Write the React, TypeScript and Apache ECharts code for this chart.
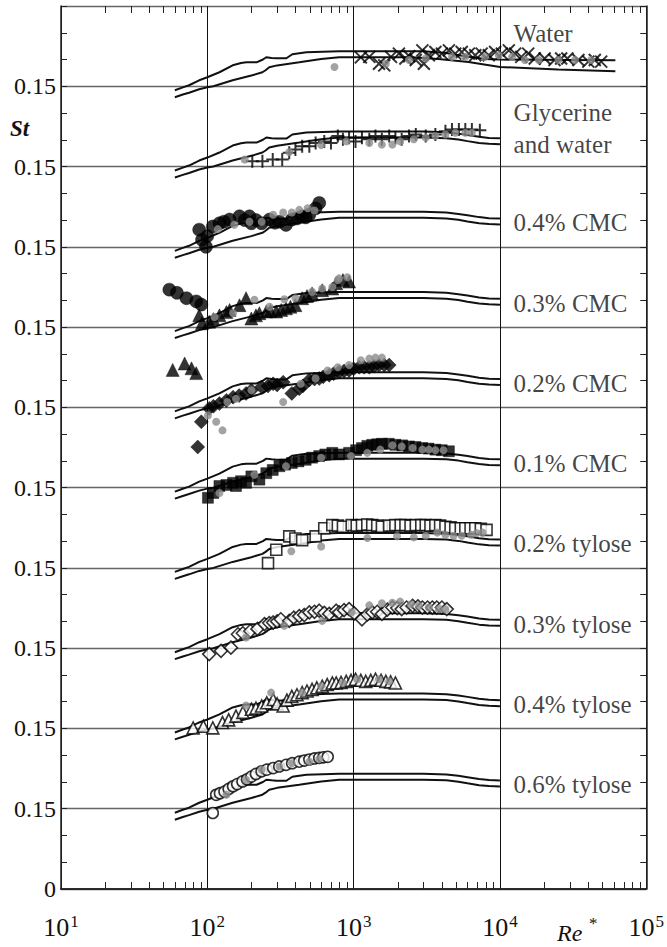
import React, { useEffect, useRef } from 'react';
import * as echarts from 'echarts';

// ---------- axis text ----------
const yTickLabels = ['0', '0.15', '0.15', '0.15', '0.15', '0.15', '0.15', '0.15', '0.15', '0.15', '0.15', ''];
const xTickExponents = ['1', '2', '3', '4', '5'];
const xMinorDecades = [10, 100, 1000, 10000];
const xMinorMultipliers = [2, 3, 4, 5, 6, 7, 8, 9];

// ---------- panels (top to bottom) ----------
const panelNames = ['Water', 'Glycerine\nand water', '0.4% CMC', '0.3% CMC', '0.2% CMC', '0.1% CMC', '0.2% tylose', '0.3% tylose', '0.4% tylose', '0.6% tylose'];
const panelLabelSt = [0.249, 0.221, 0.1948, 0.1948, 0.1948, 0.1948, 0.1948, 0.1948, 0.1948, 0.1948];
const panelLabelRe = 12400;

// ---------- model curves [Re*, St] (local panel values) ----------
const modelUpper = [[60, 0.1425], [68, 0.148], [75, 0.1519], [88, 0.1612], [100, 0.1668], [121, 0.1762], [149, 0.1892], [170, 0.1935], [185, 0.1948], [217, 0.1948], [240, 0.2], [253, 0.2042], [275, 0.203], [296, 0.2023], [347, 0.2023], [381, 0.2098], [475, 0.2135], [796, 0.2154], [3000, 0.2154], [4300, 0.214], [5200, 0.2115], [6000, 0.209], [7200, 0.2055], [8400, 0.2035], [10000, 0.2029]];
const modelLower = [[60, 0.1295], [68, 0.1345], [75, 0.138], [88, 0.1444], [100, 0.1481], [110, 0.15], [149, 0.1612], [200, 0.17], [238, 0.1762], [250, 0.18], [265, 0.1855], [300, 0.189], [425, 0.1948], [600, 0.201], [796, 0.2042], [3000, 0.2042], [4300, 0.203], [5200, 0.2005], [6000, 0.1975], [7200, 0.194], [8400, 0.1925], [10000, 0.1917]];
const waterUpper = [[60, 0.1425], [68, 0.148], [75, 0.1519], [88, 0.1612], [100, 0.1668], [121, 0.1762], [149, 0.1892], [170, 0.1935], [185, 0.1948], [217, 0.1948], [240, 0.2], [253, 0.2042], [275, 0.203], [296, 0.2023], [347, 0.2023], [381, 0.2098], [475, 0.2135], [796, 0.2154], [3000, 0.2154], [4300, 0.212], [6000, 0.205], [8000, 0.201], [10000, 0.1999], [30000, 0.199], [61500, 0.1986]];
const waterLower = [[60, 0.1295], [68, 0.1345], [75, 0.138], [88, 0.1444], [100, 0.1481], [110, 0.15], [149, 0.1612], [200, 0.17], [238, 0.1762], [250, 0.18], [265, 0.1855], [300, 0.189], [425, 0.1948], [600, 0.201], [796, 0.2042], [2500, 0.2042], [3800, 0.201], [6100, 0.1954], [10000, 0.186], [25000, 0.1815], [61500, 0.178]];

// ---------- measured points [Re*, St] (local panel values) ----------
const waterCross = [[1120, 0.204], [1280, 0.205], [1490, 0.192], [1620, 0.189], [1800, 0.205], [2040, 0.211], [2260, 0.202], [2400, 0.206], [2660, 0.199], [2950, 0.217], [3020, 0.192], [3270, 0.208], [3620, 0.214], [4010, 0.211], [4480, 0.217], [4950, 0.211], [5480, 0.214], [6130, 0.211], [6780, 0.208], [7500, 0.211], [8390, 0.208], [9270, 0.214], [10300, 0.211], [11500, 0.217], [12700, 0.211], [14000, 0.205], [15600, 0.211], [17300, 0.202], [20200, 0.202], [23600, 0.199], [26200, 0.202], [28900, 0.202], [34400, 0.199], [40200, 0.196], [44500, 0.199], [49200, 0.196]];
const waterGray = [[740, 0.186], [1660, 0.192], [2390, 0.199], [3110, 0.202], [4700, 0.205], [5800, 0.205], [7900, 0.205], [9800, 0.208], [12100, 0.205], [14800, 0.199], [18400, 0.199], [25100, 0.199], [32600, 0.199], [42000, 0.199]];

const glycerinePlus = [[203, 0.16], [238, 0.16], [280, 0.163], [325, 0.163], [363, 0.176], [400, 0.182], [445, 0.188], [498, 0.188], [550, 0.194], [630, 0.197], [700, 0.194], [780, 0.207], [845, 0.201], [931, 0.204], [1030, 0.197], [1140, 0.204], [1280, 0.201], [1410, 0.207], [1560, 0.201], [1750, 0.207], [1930, 0.204], [2130, 0.201], [2390, 0.207], [2660, 0.21], [3110, 0.207], [3620, 0.21], [4240, 0.216], [4700, 0.219], [5240, 0.219], [5800, 0.219], [6430, 0.219], [7290, 0.218]];
const glycerineGray = [[180, 0.163], [363, 0.177], [600, 0.19], [890, 0.197], [1280, 0.194], [1560, 0.191], [1840, 0.191], [2080, 0.197], [2580, 0.201], [3110, 0.204], [3620, 0.207], [4240, 0.21], [4950, 0.213], [5800, 0.213], [6430, 0.213]];

const cmc04Circle = [[55, 0.07], [62, 0.064], [72, 0.054], [84, 0.048], [91, 0.042], [88, 0.182], [92, 0.163], [98, 0.15], [100, 0.17], [109, 0.188], [121, 0.194], [130, 0.197], [142, 0.201], [166, 0.207], [180, 0.2], [194, 0.207], [200, 0.194], [215, 0.2], [235, 0.194], [266, 0.201], [290, 0.195], [311, 0.197], [345, 0.191], [378, 0.201], [410, 0.203], [445, 0.207], [470, 0.205], [498, 0.21], [550, 0.222], [582, 0.232]];
const cmc04Gray = [[118, 0.183], [153, 0.191], [194, 0.197], [235, 0.197], [282, 0.21], [330, 0.214], [378, 0.214], [425, 0.219], [485, 0.222], [540, 0.218]];

const cmc03Triangle = [[58, 0.07], [70, 0.082], [78, 0.073], [84, 0.064], [88, 0.172], [92, 0.157], [103, 0.16], [110, 0.165], [121, 0.172], [135, 0.178], [142, 0.182], [166, 0.191], [184, 0.204], [200, 0.166], [215, 0.172], [227, 0.176], [253, 0.179], [270, 0.18], [296, 0.179], [320, 0.182], [345, 0.185], [370, 0.188], [400, 0.191], [445, 0.204], [480, 0.208], [520, 0.213], [610, 0.219], [715, 0.222], [760, 0.232], [845, 0.238], [931, 0.235]];
const cmc03Gray = [[112, 0.169], [150, 0.176], [210, 0.201], [266, 0.188], [336, 0.202], [400, 0.204], [520, 0.216], [610, 0.222], [715, 0.225], [780, 0.238], [796, 0.241], [905, 0.243]];

const cmc02Diamond = [[86, 0.076], [91, 0.123], [103, 0.148], [110, 0.152], [121, 0.157], [135, 0.163], [150, 0.169], [165, 0.172], [184, 0.176], [200, 0.182], [235, 0.188], [260, 0.19], [282, 0.194], [300, 0.192], [330, 0.197], [378, 0.176], [425, 0.185], [450, 0.19], [498, 0.201], [540, 0.203], [582, 0.204], [620, 0.207], [681, 0.21], [730, 0.213], [796, 0.216], [860, 0.218], [931, 0.219], [1000, 0.222], [1090, 0.225], [1180, 0.225], [1280, 0.225], [1380, 0.227], [1490, 0.229], [1620, 0.229], [1750, 0.229]];
const cmc02Gray = [[101, 0.135], [115, 0.123], [127, 0.107], [137, 0.16], [157, 0.166], [200, 0.182], [330, 0.16], [435, 0.194], [550, 0.204], [665, 0.219], [780, 0.225], [931, 0.229], [1120, 0.238], [1280, 0.241], [1410, 0.243], [1560, 0.243]];

const cmc01Square = [[101, 0.131], [110, 0.14], [121, 0.153], [135, 0.155], [150, 0.159], [157, 0.153], [170, 0.162], [184, 0.159], [200, 0.171], [227, 0.165], [253, 0.177], [280, 0.183], [311, 0.19], [340, 0.193], [378, 0.196], [420, 0.199], [470, 0.202], [520, 0.206], [582, 0.209], [640, 0.212], [715, 0.215], [796, 0.212], [931, 0.215], [1040, 0.22], [1140, 0.224], [1240, 0.228], [1340, 0.23], [1450, 0.231], [1560, 0.232], [1740, 0.232], [1930, 0.23], [2150, 0.229], [2390, 0.227], [2650, 0.226], [2950, 0.224], [3250, 0.223], [3620, 0.221], [4000, 0.22], [4480, 0.218]];
const cmc01Gray = [[121, 0.14], [210, 0.174], [345, 0.19], [600, 0.206], [960, 0.209], [1240, 0.215], [1520, 0.221], [1840, 0.229], [2130, 0.227], [2530, 0.224], [2950, 0.221], [3270, 0.221], [3620, 0.22], [4120, 0.22]];

const tylose02Square = [[260, 0.159], [296, 0.184], [363, 0.209], [400, 0.205], [445, 0.202], [550, 0.209], [630, 0.224], [715, 0.23], [780, 0.229], [845, 0.227], [970, 0.23], [1050, 0.229], [1140, 0.23], [1240, 0.231], [1340, 0.23], [1450, 0.229], [1560, 0.227], [1750, 0.229], [1930, 0.23], [2100, 0.23], [2260, 0.23], [2450, 0.229], [2660, 0.23], [2900, 0.23], [3110, 0.23], [3350, 0.229], [3620, 0.23], [3900, 0.229], [4240, 0.227], [4600, 0.226], [4950, 0.224], [5400, 0.224], [5800, 0.224], [6300, 0.224], [6780, 0.224], [7400, 0.223], [8100, 0.221]];
const tylose02Gray = [[375, 0.181], [600, 0.19], [1240, 0.206], [1980, 0.209], [2580, 0.207], [3110, 0.21], [3730, 0.216], [4240, 0.212], [4820, 0.21], [5480, 0.21], [6350, 0.212], [6930, 0.215], [7600, 0.216]];

const tylose03Diamond = [[103, 0.139], [124, 0.145], [145, 0.151], [162, 0.176], [175, 0.178], [197, 0.182], [220, 0.186], [246, 0.195], [265, 0.197], [282, 0.198], [300, 0.2], [318, 0.204], [363, 0.201], [390, 0.207], [425, 0.21], [460, 0.212], [498, 0.217], [540, 0.218], [582, 0.22], [630, 0.216], [681, 0.214], [760, 0.22], [796, 0.217], [860, 0.221], [931, 0.223], [1010, 0.215], [1140, 0.204], [1240, 0.213], [1340, 0.217], [1450, 0.218], [1560, 0.214], [1700, 0.222], [1840, 0.226], [1990, 0.225], [2130, 0.223], [2300, 0.226], [2530, 0.229], [2750, 0.228], [2950, 0.226], [3200, 0.226], [3450, 0.226], [3700, 0.226], [4010, 0.226], [4330, 0.223]];
const tylose03Gray = [[184, 0.17], [336, 0.192], [610, 0.201], [970, 0.217], [1280, 0.23], [1560, 0.234], [1840, 0.235], [2080, 0.237], [2460, 0.232], [2795, 0.229], [3270, 0.226], [3830, 0.223], [4240, 0.222]];

const tylose04Triangle = [[80, 0.151], [94, 0.154], [109, 0.151], [127, 0.161], [140, 0.166], [157, 0.173], [175, 0.18], [200, 0.186], [215, 0.188], [235, 0.192], [255, 0.198], [282, 0.204], [300, 0.196], [330, 0.192], [350, 0.203], [378, 0.21], [410, 0.213], [445, 0.217], [480, 0.22], [520, 0.223], [560, 0.226], [610, 0.229], [660, 0.232], [715, 0.235], [760, 0.235], [820, 0.236], [890, 0.238], [960, 0.24], [1030, 0.242], [1120, 0.24], [1210, 0.238], [1310, 0.24], [1410, 0.242], [1540, 0.24], [1660, 0.238], [1790, 0.237], [1930, 0.235]];
const tylose04Gray = [[184, 0.193], [273, 0.217], [445, 0.217], [600, 0.229], [845, 0.235], [1060, 0.242], [1490, 0.242], [1750, 0.238]];

const tylose06Circle = [[109, 0.142], [115, 0.176], [122, 0.179], [131, 0.182], [140, 0.187], [150, 0.192], [160, 0.196], [174, 0.201], [187, 0.205], [200, 0.21], [215, 0.215], [235, 0.22], [255, 0.223], [282, 0.226], [310, 0.229], [345, 0.232], [380, 0.235], [425, 0.238], [460, 0.24], [498, 0.242], [540, 0.244], [582, 0.245], [620, 0.246], [665, 0.247]];
const tylose06Gray = [[135, 0.176], [184, 0.204], [235, 0.223], [311, 0.229], [378, 0.235], [498, 0.238], [582, 0.243]];

// ---------- marker styles ----------
const SYM_CROSS = 'path://M0,0L10,10M10,0L0,10';
const SYM_PLUS = 'path://M5,0L5,10M0,5L10,5';
const SERIF = 'Liberation Serif';

type Marker = { data: number[][]; symbol: string; size: number; open?: boolean; stroke?: boolean };

const panelMarkers: Marker[][] = [
  [{ data: waterCross, symbol: SYM_CROSS, size: 12, stroke: true }],
  [{ data: glycerinePlus, symbol: SYM_PLUS, size: 13, stroke: true }],
  [{ data: cmc04Circle, symbol: 'circle', size: 13 }],
  [{ data: cmc03Triangle, symbol: 'triangle', size: 13 }],
  [{ data: cmc02Diamond, symbol: 'diamond', size: 14 }],
  [{ data: cmc01Square, symbol: 'rect', size: 11 }],
  [{ data: tylose02Square, symbol: 'rect', size: 11, open: true }],
  [{ data: tylose03Diamond, symbol: 'diamond', size: 13, open: true }],
  [{ data: tylose04Triangle, symbol: 'triangle', size: 12, open: true }],
  [{ data: tylose06Circle, symbol: 'circle', size: 11, open: true }],
];
const panelGray = [waterGray, glycerineGray, cmc04Gray, cmc03Gray, cmc02Gray, cmc01Gray, tylose02Gray, tylose03Gray, tylose04Gray, tylose06Gray];
const panelCurves = [[waterUpper, waterLower], [modelUpper, modelLower], [modelUpper, modelLower], [modelUpper, modelLower], [modelUpper, modelLower], [modelUpper, modelLower], [modelUpper, modelLower], [modelUpper, modelLower], [modelUpper, modelLower], [modelUpper, modelLower]];

const PANEL_STEP = 0.15;

function buildOption() {
  const n = panelNames.length;
  const shift = (arr: number[][], off: number) => arr.map(([x, v]) => [x, v + off]);
  const lineSeries: any[] = [];
  const markSeries: any[] = [];
  const graySeries: any[] = [];
  for (let i = 0; i < n; i++) {
    const off = (n - 1 - i) * PANEL_STEP;
    panelCurves[i].forEach((c) => {
      lineSeries.push({
        type: 'line', data: shift(c, off), showSymbol: false, symbol: 'none',
        lineStyle: { color: '#111', width: 2 }, z: 2, silent: true,
      });
    });
    panelMarkers[i].forEach((m) => {
      markSeries.push({
        type: 'scatter', data: shift(m.data, off), symbol: m.symbol, symbolSize: m.size, z: 3, silent: true,
        itemStyle: m.stroke
          ? { color: 'rgba(0,0,0,0)', borderColor: '#000', borderWidth: 2 }
          : m.open
            ? { color: '#fff', borderColor: '#000', borderWidth: 1.6 }
            : { color: '#000', borderColor: '#000', borderWidth: 0.5 },
      });
    });
    graySeries.push({
      type: 'scatter', data: shift(panelGray[i], off), symbol: 'circle', symbolSize: 8, z: 4, silent: true,
      itemStyle: { color: '#8c8c8c' },
    });
  }
  const labelSeries = {
    type: 'scatter', symbolSize: 0, z: 6, silent: true,
    data: panelNames.map((name, i) => ({ name, value: [panelLabelRe, panelLabelSt[i] + (n - 1 - i) * PANEL_STEP] })),
    label: {
      show: true, position: 'inside', align: 'left', verticalAlign: 'middle', formatter: '{b}',
      fontFamily: SERIF, fontSize: 25, lineHeight: 32, color: '#111',
    },
  };
  const minorTicks: number[][] = [];
  xMinorDecades.forEach((d) => xMinorMultipliers.forEach((m) => minorTicks.push([d * m, 0])));
  const minorTickSeries = {
    type: 'custom', silent: true, z: 7, clip: false, data: minorTicks,
    encode: { x: 0, y: 1 },
    renderItem: (params: any, api: any) => {
      const p = api.coord([api.value(0), 0]);
      const cs = params.coordSys;
      const x = Math.round(p[0]) + 0.5;
      const st = { stroke: '#222', lineWidth: 1 };
      return {
        type: 'group',
        children: [
          { type: 'line', shape: { x1: x, y1: cs.y, x2: x, y2: cs.y + 7 }, style: st },
          { type: 'line', shape: { x1: x, y1: cs.y + cs.height, x2: x, y2: cs.y + cs.height - 7 }, style: st },
        ],
      };
    },
  };

  const axisLine = { show: true, lineStyle: { color: '#222', width: 1.5 } };
  const tickLine = { color: '#222', width: 1 };
  const yMax = (n + 1) * PANEL_STEP;

  return {
    animation: false,
    backgroundColor: '#fff',
    grid: { left: 61, right: 19, top: 6, bottom: 58 },
    xAxis: [
      {
        type: 'log', logBase: 10, min: 10, max: 100000, position: 'bottom',
        axisLine, axisTick: { show: false },
        axisLabel: {
          margin: 24,
          formatter: (v: number) => `{b|10}{s|${xTickExponents[Math.round(Math.log10(v)) - 1]}}`,
          rich: {
            b: { fontFamily: SERIF, fontSize: 26, color: '#111' },
            s: { fontFamily: SERIF, fontSize: 17, color: '#111', padding: [0, 0, 12, 1] },
          },
        },
        splitLine: { show: true, lineStyle: { color: '#111', width: 1 } },
      },
      {
        type: 'log', logBase: 10, min: 10, max: 100000, position: 'top',
        axisLine, axisTick: { show: false }, axisLabel: { show: false }, splitLine: { show: false },
      },
    ],
    yAxis: [
      {
        type: 'value', min: 0, max: yMax, interval: PANEL_STEP, position: 'left',
        axisLine, axisTick: { show: true, inside: true, length: 6, lineStyle: tickLine },
        minorTick: { show: true, splitNumber: 3, length: 6, lineStyle: tickLine },
        axisLabel: {
          formatter: (v: number) => yTickLabels[Math.round(v / PANEL_STEP)] ?? '',
          fontFamily: SERIF, fontSize: 24, color: '#111', margin: 5,
        },
        splitLine: { show: true, lineStyle: { color: '#666', width: 1.4 } },
      },
      {
        type: 'value', min: 0, max: yMax, interval: PANEL_STEP, position: 'right',
        axisLine, axisTick: { show: true, inside: true, length: 6, lineStyle: tickLine },
        minorTick: { show: true, splitNumber: 3, length: 6, lineStyle: tickLine },
        axisLabel: { show: false }, splitLine: { show: false },
      },
    ],
    graphic: [
      { type: 'text', left: 10, top: 117, style: { text: 'St', font: `italic bold 23px ${SERIF}`, fill: '#111' } },
      { type: 'text', left: 557, top: 921, style: { text: 'Re', font: `italic 24px ${SERIF}`, fill: '#111' } },
      { type: 'text', left: 589, top: 915, style: { text: '*', font: `17px ${SERIF}`, fill: '#111' } },
    ],
    series: [minorTickSeries, ...lineSeries, ...markSeries, ...graySeries, labelSeries],
  };
}

export default function App() {
  const ref = useRef<HTMLDivElement>(null);
  useEffect(() => {
    if (!ref.current) return;
    const chart = echarts.init(ref.current, undefined, { renderer: 'svg' });
    chart.setOption(buildOption() as any);
    return () => chart.dispose();
  }, []);
  return <div ref={ref} style={{ position: 'absolute', left: 0, top: 0, width: 667, height: 947 }} />;
}
